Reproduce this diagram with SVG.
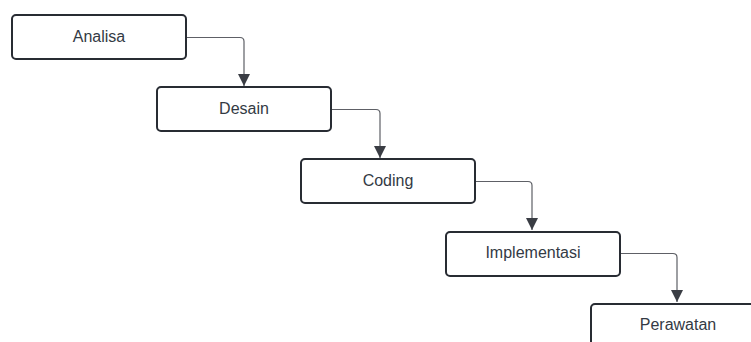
<svg xmlns="http://www.w3.org/2000/svg" width="751" height="342" viewBox="0 0 751 342">
<defs>
<style>
.box{fill:#fff;stroke:#282c33;stroke-width:2}
.lbl{font-family:"Liberation Sans",Arial,sans-serif;font-size:16px;fill:#333a44;text-anchor:middle}
.con{fill:none;stroke:#5e6066;stroke-width:1.2}
</style>
<marker id="arr" markerWidth="12" markerHeight="12" refX="10" refY="5" orient="auto" markerUnits="userSpaceOnUse" viewBox="0 0 10 10">
<path d="M0,0 L10,5 L0,10 Z" fill="#3a3d44"/>
</marker>
</defs>
<rect width="751" height="342" fill="#fff"/>
<g id="connectors">
<path class="con" d="M186,37.5 H240 Q244,37.5 244,41.5 V86" marker-end="url(#arr)"/>
<path class="con" d="M331,109.5 H376 Q380,109.5 380,113.5 V158" marker-end="url(#arr)"/>
<path class="con" d="M475,181.5 H528 Q532,181.5 532,185.5 V230" marker-end="url(#arr)"/>
<path class="con" d="M620,253.5 H673 Q677,253.5 677,257.5 V302" marker-end="url(#arr)"/>
</g>
<g id="analisa">
<rect class="box" x="12" y="15" width="174" height="44" rx="4"/>
<text class="lbl" x="99" y="42">Analisa</text>
</g>
<g id="desain">
<rect class="box" x="157" y="87" width="174" height="44" rx="4"/>
<text class="lbl" x="244" y="114">Desain</text>
</g>
<g id="coding">
<rect class="box" x="301" y="159" width="174" height="44" rx="4"/>
<text class="lbl" x="388" y="186">Coding</text>
</g>
<g id="implementasi">
<rect class="box" x="446" y="232" width="174" height="44" rx="4"/>
<text class="lbl" x="533" y="258">Implementasi</text>
</g>
<g id="perawatan">
<rect class="box" x="591" y="304" width="174" height="44" rx="4"/>
<text class="lbl" x="678" y="330">Perawatan</text>
</g>
</svg>
